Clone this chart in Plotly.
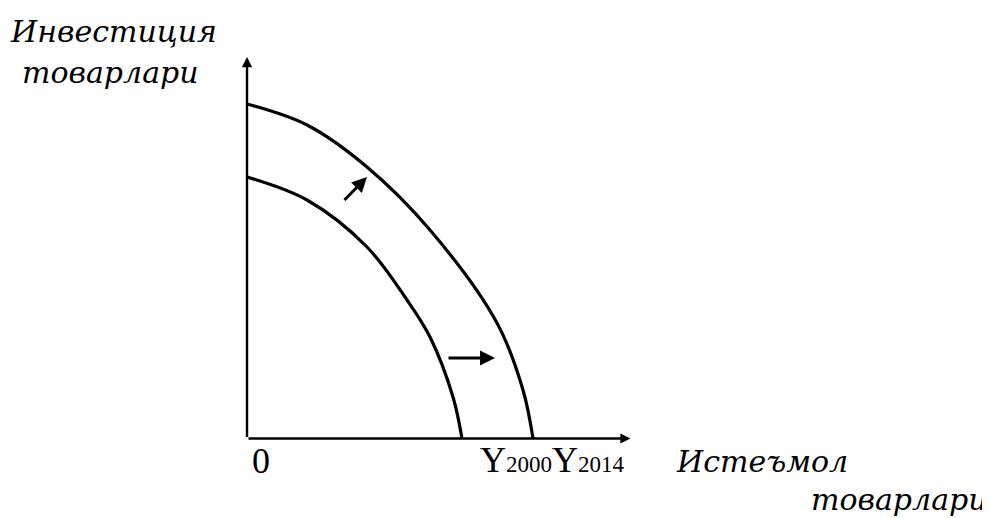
import plotly.graph_objects as go

# ---- data (units: 1 unit = 10 px, origin at the axes corner) ----
outer_x = [0.0, 6.0, 12.0, 18.3, 25.0, 27.6, 28.6]
outer_y = [33.45, 31.35, 27.15, 20.85, 11.55, 4.85, 0.0]
inner_x = [0.0, 6.0, 12.0, 16.0, 18.3, 20.6, 21.5]
inner_y = [26.15, 23.85, 19.15, 13.85, 10.15, 4.15, 0.0]

shift_arrows = [  # (tail_x, tail_y, tip_x, tip_y)
    (9.6, 23.7, 12.0, 26.15),
    (20.0, 8.05, 24.8, 8.05),
]
x_axis_end = 38.35
y_axis_end = 38.15

y_label = ["Инвестиция", "товарлари"]
x_label = ["Истеъмол", "товарлари"]
origin_label = "0"
curve_labels = ["2000", "2014"]

# ---- layout constants (page pixels; page has an 8px body margin) ----
PAD = 8
W, H = 990 - PAD, 518 - PAD
OX, OY, S = 247 - PAD, 438.5 - PAD, 10.0
SERIF = "Liberation Serif"
ITALIC = "DejaVu Serif"
FS = 36
FS_IT = 30


def px_x(px):
    return (px - PAD - OX) / S


def px_y(py):
    return (OY - (py - PAD)) / S


fig = go.Figure()
for xs, ys in [(outer_x, outer_y), (inner_x, inner_y)]:
    fig.add_trace(go.Scatter(x=xs, y=ys, mode="lines",
                             line=dict(color="black", width=3.2, shape="spline", smoothing=1.0),
                             hoverinfo="skip", showlegend=False))

ann = []
ann.append(dict(x=x_axis_end, y=0, ax=0, ay=0, xref="x", yref="y", axref="x", ayref="y",
                showarrow=True, arrowhead=2, arrowwidth=2.4, arrowsize=0.85,
                arrowcolor="black", text=""))
ann.append(dict(x=0, y=y_axis_end, ax=0, ay=0, xref="x", yref="y", axref="x", ayref="y",
                showarrow=True, arrowhead=2, arrowwidth=2.4, arrowsize=0.85,
                arrowcolor="black", text=""))
for tx, ty, hx, hy in shift_arrows:
    ann.append(dict(x=hx, y=hy, ax=tx, ay=ty, xref="x", yref="y", axref="x", ayref="y",
                    showarrow=True, arrowhead=2, arrowwidth=3, arrowsize=1.0,
                    arrowcolor="black", text=""))


def label(text, left_px, center_py, italic=True):
    ann.append(dict(x=px_x(left_px), y=px_y(center_py), xref="x", yref="y",
                    xanchor="left", yanchor="middle", showarrow=False, borderpad=0,
                    text=f"<i>{text}</i>" if italic else text,
                    font=dict(family=ITALIC if italic else SERIF,
                              size=FS_IT if italic else FS, color="black")))


label(y_label[0], 9, 31)
label(y_label[1], 21, 72.5)
label(x_label[0], 675, 461.5)
label(x_label[1], 810, 499.5)
label(origin_label, 251, 461, italic=False)
ytxt = "".join(f"Y<span style='font-size:23px'>{c}</span>" for c in curve_labels)
label(ytxt, 479, 460, italic=False)

fig.update_layout(
    width=W, height=H,
    margin=dict(l=0, r=0, t=0, b=0),
    paper_bgcolor="white", plot_bgcolor="white",
    xaxis=dict(range=[px_x(PAD), px_x(PAD + W)], visible=False, fixedrange=True),
    yaxis=dict(range=[px_y(PAD + H), px_y(PAD)], visible=False, fixedrange=True),
    annotations=ann,
    showlegend=False,
)
fig.write_html("out.html")
